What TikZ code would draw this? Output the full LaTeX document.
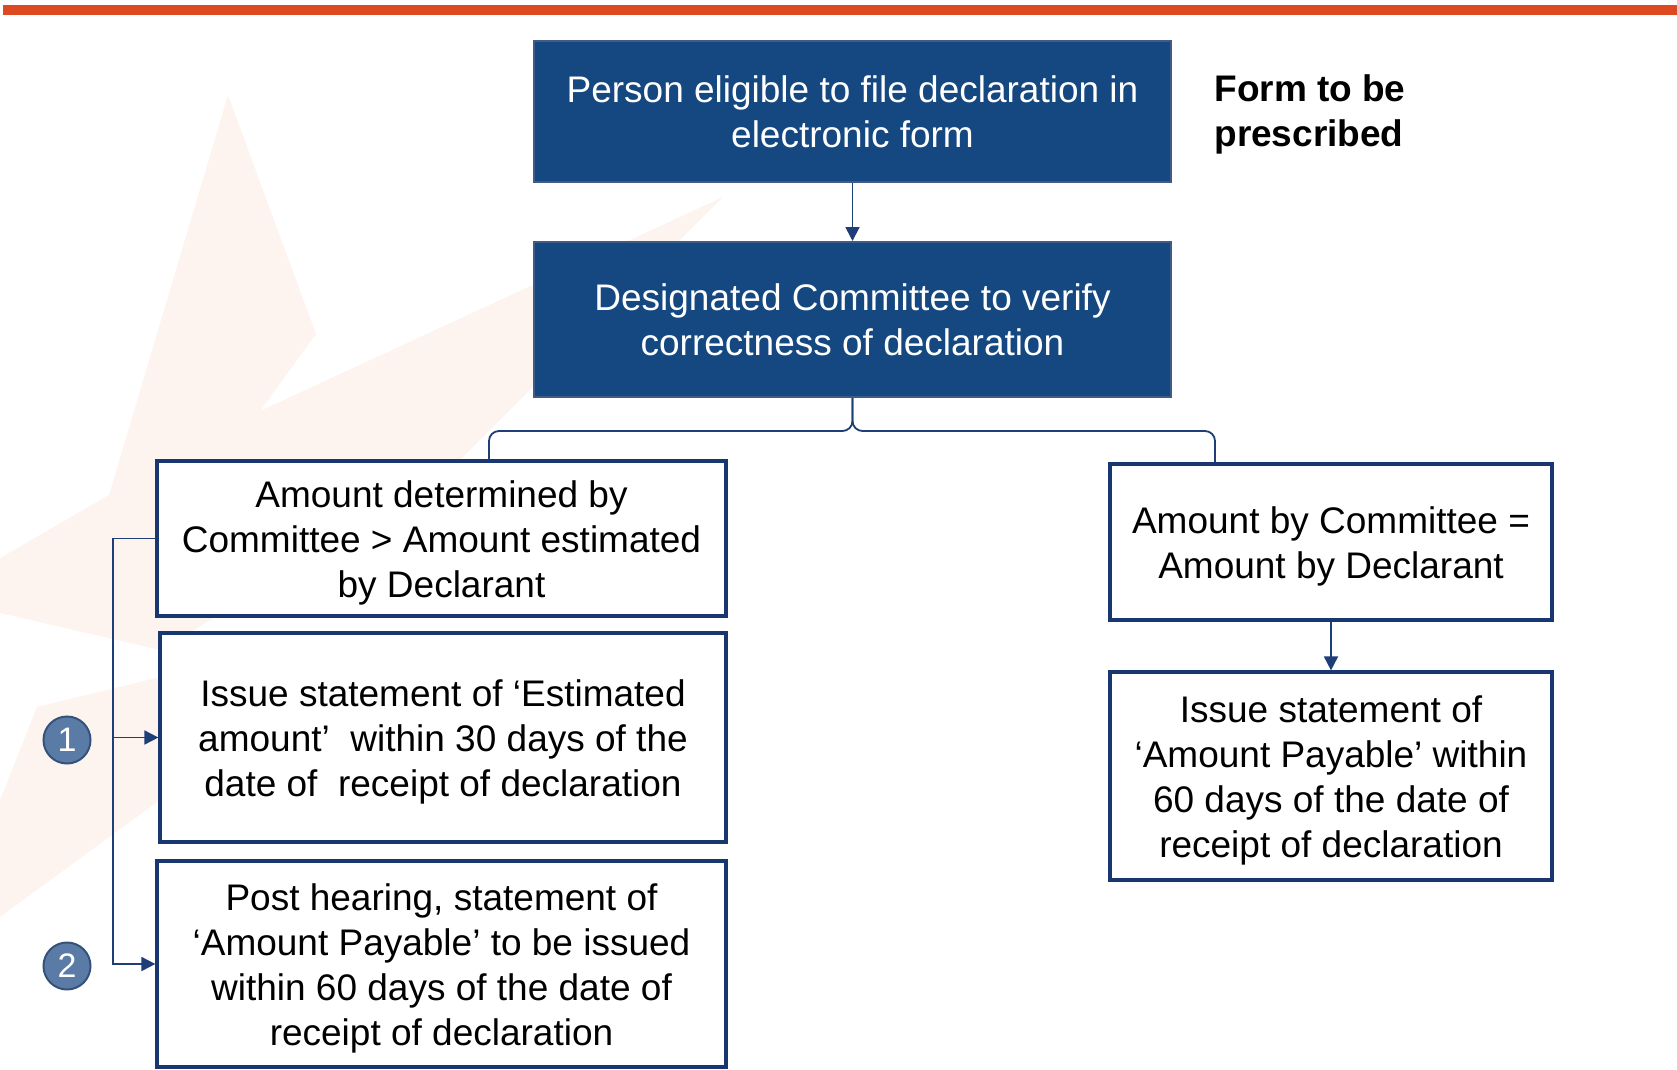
\documentclass[tikz,border=0pt]{standalone}
\usepackage{fontspec}
\setmainfont{Liberation Sans}
\usetikzlibrary{arrows.meta}

\definecolor{navy}{RGB}{21,72,128}
\definecolor{navyedge}{RGB}{62,92,135}
\definecolor{boxline}{RGB}{24,55,112}
\definecolor{wire}{RGB}{30,62,120}
\definecolor{badgefill}{RGB}{90,123,165}
\definecolor{badgeedge}{RGB}{55,82,122}
\definecolor{redbar}{RGB}{221,74,34}
\definecolor{wash}{RGB}{253,244,240}

% taller first line, pushes box text a little down
\newcommand{\lift}{\rule{0pt}{18pt}}

\begin{document}
\begin{tikzpicture}[x=0.5pt,y=-0.5pt,>/.tip={Triangle[length=7pt,width=7pt]},
	darkbox/.style={draw=navyedge,line width=1pt,fill=navy,text=white,align=center,inner sep=0pt,font=\fontsize{18.5}{22.5}\selectfont},
	whitebox/.style={draw=boxline,line width=1.6pt,fill=white,align=center,inner sep=0pt,font=\fontsize{18.5}{22.5}\selectfont},
	link/.style={draw=wire,line width=0.9pt},
	badge/.style={draw=badgeedge,line width=1pt,fill=badgefill,circle,minimum size=23.5pt,inner sep=0pt,text=white,font=\fontsize{17}{17}\selectfont}]
	\useasboundingbox (0,0) rectangle (1677,1070);
	\fill[redbar] (3,5) rectangle (1677,15);
	\fill[wash] (228,95) -- (316,334) -- (260,411) -- (723,197) -- (430,490) -- (160,650) -- (0,613) -- (0,558) -- (109,495) -- cycle;
	\fill[wash] (37,707) -- (160,677) -- (160,800) -- (0,917) -- (0,800) -- cycle;

	\node (person) [darkbox,minimum width=318.5pt,minimum height=70.5pt] at (852.5,111.5) {Person eligible to file declaration in\\electronic form};
	\node (verify) [darkbox,minimum width=318.5pt,minimum height=77.5pt] at (852.5,319.5) {Designated Committee to verify\\correctness of declaration};
	\node (form) [anchor=west,align=left,inner sep=0pt,font=\fontsize{18.5}{22.5}\selectfont\bfseries] at (1214,114) {Form to be\\prescribed};

	\node (higher) [whitebox,minimum width=284.5pt,minimum height=77.5pt] at (441.5,538.5) {\lift Amount determined by\\Committee > Amount estimated\\by Declarant};
	\node (estimate) [whitebox,minimum width=283pt,minimum height=104.5pt] at (443,737.5) {\lift Issue statement of ‘Estimated\\amount’\ \ within 30 days of the\\date of\ \ receipt of declaration};
	\node (hearing) [whitebox,minimum width=284.5pt,minimum height=103pt] at (441.5,964) {\lift Post hearing, statement of\\‘Amount Payable’ to be issued\\within 60 days of the date of\\receipt of declaration};
	\node (equal) [whitebox,minimum width=221pt,minimum height=78pt] at (1331,542) {\lift Amount by Committee =\\Amount by Declarant};
	\node (payable) [whitebox,minimum width=221pt,minimum height=104pt] at (1331,776) {\lift Issue statement of\\‘Amount Payable’ within\\60 days of the date of\\receipt of declaration};

	\node (one) [badge] at (67,740) {1};
	\node (two) [badge] at (67,966) {2};

	\coordinate (legL) at (489,431);
	\coordinate (legR) at (1215,431);
	\coordinate (rail) at (113,0);

	\draw[link,->] (person) -- (verify);
	\draw[link,rounded corners=5pt] (verify.south) |- (legL) -- (legL |- higher.north);
	\draw[link,rounded corners=5pt] (verify.south) |- (legR) -- (legR |- equal.north);
	\draw[link,->] (equal) -- (payable);
	\draw[link,->] (higher.west) -| (rail |- hearing.west) -- (hearing.west);
	\draw[link,->] (rail |- estimate.west) -- (estimate.west);
\end{tikzpicture}
\end{document}
